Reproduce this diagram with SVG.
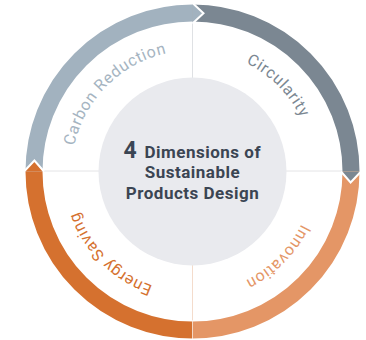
<svg xmlns="http://www.w3.org/2000/svg" width="366" height="340" viewBox="0 0 366 340">
  <style>
    .band { fill: none; stroke-width: 17; }
    .divider { stroke-width: 1; fill: none; }
    .label { font-family: Roboto, "Liberation Sans", sans-serif; font-size: 16px; letter-spacing: 0.7px; }
    .title { font-family: Roboto, "Liberation Sans", sans-serif; font-weight: bold; fill: #3b4553; text-anchor: middle; font-size: 17px; letter-spacing: 0.5px; }
    .title.big { font-size: 23px; text-anchor: start; letter-spacing: 0; }
    .title.tail { text-anchor: end; }
    .seam { fill: none; stroke: #ffffff; stroke-width: 2; stroke-linejoin: miter; }
  </style>
  <defs>
    <!-- clockwise label baseline circle, starting at 9 o'clock -->
    <path id="labelRing" d="M71.5,171.5 A121,121 0 0 1 313.5,171.5 A121,121 0 0 1 71.5,171.5"/>
  </defs>

  <rect width="366" height="340" fill="#ffffff"/>

  <!-- quadrant divider lines -->
  <g id="dividers">
    <line class="divider" x1="192.5" y1="22" x2="192.5" y2="78" stroke="#dfe1e4"/>
    <line class="divider" x1="192.5" y1="265" x2="192.5" y2="322" stroke="#f4dccc"/>
    <line class="divider" x1="42" y1="171" x2="99" y2="171" stroke="#e4e4e6"/>
    <line class="divider" x1="286" y1="171" x2="343" y2="171" stroke="#e4e4e6"/>
  </g>

  <!-- centre hub -->
  <g id="hub">
    <circle cx="192.5" cy="171.5" r="94" fill="#e9eaee"/>
    <text class="title big" x="123.5" y="157.5">4</text>
    <text class="title tail" x="261" y="157.5">Dimensions of</text>
    <text class="title" x="192.5" y="178">Sustainable</text>
    <text class="title" x="192.5" y="198.5">Products Design</text>
  </g>

  <!-- ring segments -->
  <g id="carbon-reduction">
    <path class="band" stroke="#a2b2bf" d="M34,171.5 A158.5,158.5 0 0 1 192.5,13"/>
    <text class="label" fill="#a5b4c1"><textPath href="#labelRing" startOffset="12.5%" text-anchor="middle">Carbon Reduction</textPath></text>
  </g>
  <g id="circularity">
    <path class="band" stroke="#7b8792" d="M192.5,13 A158.5,158.5 0 0 1 351,171.5"/>
    <text class="label" fill="#7b8792"><textPath href="#labelRing" startOffset="37.5%" text-anchor="middle">Circularity</textPath></text>
  </g>
  <g id="innovation">
    <path class="band" stroke="#e49666" d="M351,171.5 A158.5,158.5 0 0 1 192.5,330"/>
    <text class="label" fill="#e49666"><textPath href="#labelRing" startOffset="62.5%" text-anchor="middle">Innovation</textPath></text>
  </g>
  <g id="energy-saving">
    <path class="band" stroke="#d5712f" d="M192.5,330 A158.5,158.5 0 0 1 34,171.5"/>
    <text class="label" fill="#d5712f"><textPath href="#labelRing" startOffset="87.5%" text-anchor="middle">Energy Saving</textPath></text>
  </g>

  <!-- chevron joints between segments -->
  <g id="connectors">
    <polygon points="192.5,4 203.5,13.3 192.5,22.5" fill="#a2b2bf"/>
    <polyline class="seam" points="192.5,3 203.5,13.3 192.5,23.5"/>
    <polygon points="360,171.5 350.6,182.5 342,171.5" fill="#7b8792"/>
    <polyline class="seam" points="361,171.5 350.6,182.5 341,171.5"/>
    <polygon points="25,171.5 34.4,160.5 43,171.5" fill="#d5712f"/>
    <polyline class="seam" points="24,171.5 34.4,160.5 44,171.5"/>
    <line x1="192.5" y1="320" x2="192.5" y2="340" stroke="#ffffff" stroke-opacity="0.6" stroke-width="1"/>
  </g>
</svg>
